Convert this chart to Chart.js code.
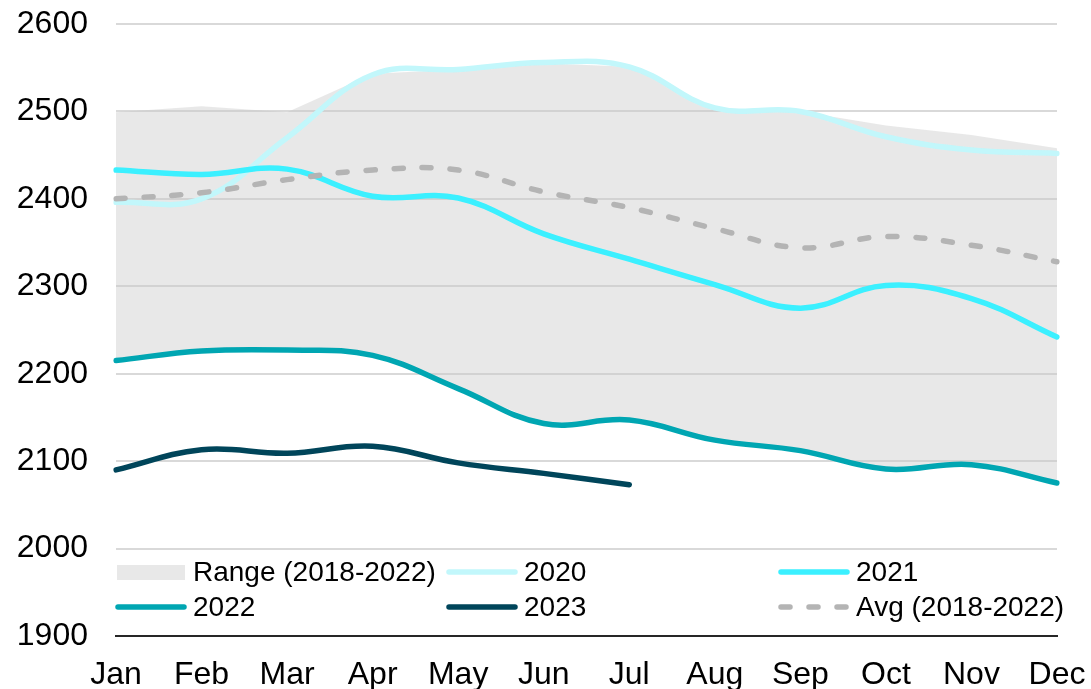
<!DOCTYPE html>
<html>
<head>
<meta charset="utf-8">
<style>
  body { margin: 0; background: #fff; }
  #wrap { width: 1091px; height: 689px; }
</style>
</head>
<body>
<div id="wrap"><canvas id="chart"></canvas></div>
<script src="https://cdn.jsdelivr.net/npm/chart.js@4"></script>
<script>
const months = ['Jan', 'Feb', 'Mar', 'Apr', 'May', 'Jun', 'Jul', 'Aug', 'Sep', 'Oct', 'Nov', 'Dec'];

// 2018-2022 band
const rangeHigh = [2499, 2506, 2499, 2543, 2548, 2555, 2551, 2504, 2500, 2484, 2473, 2458];
const rangeLow  = [2215, 2226, 2227, 2221, 2183, 2143, 2147, 2124, 2112, 2091, 2096, 2075];

const y2020 = [2396, 2400, 2470, 2542, 2548, 2556, 2551, 2504, 2500, 2471, 2456, 2452];
const y2021 = [2433, 2428, 2434, 2403, 2401, 2360, 2331, 2302, 2275, 2301, 2286, 2242];
const y2022 = [2215, 2226, 2227, 2221, 2183, 2143, 2147, 2124, 2112, 2091, 2096, 2075];
const y2023 = [2090, 2113, 2109, 2117, 2098, 2086, 2073];
const avg   = [2400, 2407, 2422, 2433, 2433, 2408, 2390, 2366, 2344, 2357, 2347, 2328];

const FONT = 'Arial, "Liberation Sans", sans-serif';

function line(label, data, color, extra) {
    return Object.assign({
        label: label,
        data: data,
        borderColor: color,
        backgroundColor: color,
        borderWidth: 5.5,
        borderCapStyle: 'round',
        pointRadius: 0,
        tension: 0.4,
        fill: false
    }, extra || {});
}

// legend drawn inside the plot, 3 columns x 2 rows
const legendItems = [
    { text: 'Range (2018-2022)', box: 'rgba(200,200,200,0.42)', col: 0, row: 0 },
    { text: '2020', color: '#c2f7fb', col: 1, row: 0 },
    { text: '2021', color: '#3bf0ff', col: 2, row: 0 },
    { text: '2022', color: '#00a6b2', col: 0, row: 1 },
    { text: '2023', color: '#00455a', col: 1, row: 1 },
    { text: 'Avg (2018-2022)', color: '#b4b4b4', dash: [9, 19], col: 2, row: 1 }
];
const legendCols = [116, 447, 779];
const legendRows = [572, 607];

const insideLegend = {
    id: 'insideLegend',
    afterDraw(chart) {
        const ctx = chart.ctx;
        ctx.save();
        legendItems.forEach(it => {
            const x = legendCols[it.col];
            const y = legendRows[it.row];
            if (it.box) {
                ctx.fillStyle = it.box;
                ctx.fillRect(x + 1, y - 7, 68, 15);
            } else {
                ctx.strokeStyle = it.color;
                ctx.lineWidth = 5.5;
                ctx.lineCap = 'round';
                ctx.setLineDash(it.dash || []);
                ctx.beginPath();
                ctx.moveTo(x + 2, y);
                ctx.lineTo(x + 68, y);
                ctx.stroke();
                ctx.setLineDash([]);
            }
            ctx.fillStyle = '#000';
            ctx.font = '28px ' + FONT;
            ctx.textBaseline = 'alphabetic';
            ctx.textAlign = 'left';
            ctx.fillText(it.text, x + 77, y + 9);
        });
        ctx.restore();
    }
};

new Chart(document.getElementById('chart'), {
    type: 'line',
    data: {
        labels: months,
        datasets: [
            line('Avg (2018-2022)', avg, '#b4b4b4', { borderDash: [9, 19], order: 0 }),
            line('2023', y2023, '#00455a', { order: 1 }),
            line('2022', y2022, '#00a6b2', { order: 2 }),
            line('2021', y2021, '#3bf0ff', { order: 3 }),
            line('2020', y2020, '#c2f7fb', { order: 4 }),
            {
                label: 'Range (2018-2022)',
                data: rangeHigh,
                borderWidth: 0,
                pointRadius: 0,
                tension: 0,
                backgroundColor: 'rgba(200,200,200,0.42)',
                fill: '+1',
                order: 10
            },
            {
                label: 'rangeLow',
                data: rangeLow,
                borderWidth: 0,
                pointRadius: 0,
                tension: 0,
                fill: false,
                order: 11
            }
        ]
    },
    options: {
        responsive: true,
        maintainAspectRatio: false,
        animation: false,
        layout: { padding: { left: 0, right: 34, top: 24, bottom: 0 } },
        plugins: {
            legend: { display: false },
            tooltip: { enabled: false }
        },
        scales: {
            x: {
                offset: false,
                grid: { display: false },
                border: { display: true, color: '#262626', width: 2 },
                ticks: {
                    color: '#000',
                    font: { family: FONT, size: 32 },
                    padding: 12,
                    maxRotation: 0,
                    autoSkip: false
                },
                afterFit(scale) {
                    scale.height = 53;
                    scale.paddingLeft = 0;
                    scale.paddingRight = 0;
                }
            },
            y: {
                min: 1900,
                max: 2600,
                grid: { color: '#d9d9d9', lineWidth: 2, drawTicks: false },
                border: { display: false },
                ticks: {
                    stepSize: 100,
                    color: '#000',
                    font: { family: FONT, size: 32 },
                    padding: 28,
                    callback: v => String(v)
                },
                afterFit(scale) {
                    scale.width = 116;
                    scale.paddingTop = 0;
                    scale.paddingBottom = 0;
                }
            }
        }
    },
    plugins: [insideLegend]
});
</script>
</body>
</html>
